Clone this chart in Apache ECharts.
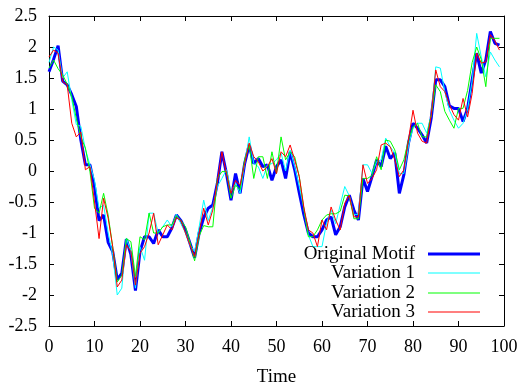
<!DOCTYPE html>
<html>
<head>
<meta charset="utf-8">
<script src="https://cdn.jsdelivr.net/npm/echarts@6/dist/echarts.min.js"></script>
<style>html,body{margin:0;padding:0;background:#fff;}#c{width:523px;height:387px;}</style>
</head>
<body>
<div id="c"></div>
<script>
const seriesNames = ["Original Motif", "Variation 1", "Variation 2", "Variation 3"];
const xTicks = [0, 10, 20, 30, 40, 50, 60, 70, 80, 90, 100];
const yTicks = [-2.5, -2, -1.5, -1, -0.5, 0, 0.5, 1, 1.5, 2, 2.5];
const xLabel = "Time";

const original = [1.60,1.80,2.02,1.45,1.39,1.23,1.04,0.50,0.10,0.10,
 -0.25,-0.80,-0.71,-1.15,-1.30,-1.75,-1.65,-1.10,-1.35,-1.93,
 -1.30,-1.06,-1.06,-1.17,-0.95,-1.06,-1.06,-0.92,-0.71,-0.80,
 -0.95,-1.17,-1.40,-1.00,-0.75,-0.60,-0.55,-0.20,0.31,-0.04,
 -0.47,-0.04,-0.36,0.12,0.42,0.12,0.20,0.07,0.10,-0.15,
 0.07,0.18,-0.12,0.31,0.02,-0.35,-0.70,-1.00,-1.06,-1.06,
 -0.95,-0.79,-0.74,-1.03,-0.90,-0.58,-0.39,-0.63,-0.79,-0.12,
 -0.33,-0.09,0.18,0.07,0.40,0.20,0.29,-0.36,-0.06,0.45,
 0.77,0.69,0.58,0.45,0.85,1.47,1.47,1.36,1.05,1.01,
 1.01,0.80,1.01,1.47,1.90,1.58,1.79,2.25,2.06,2.03];

const variation1 = [1.75,2.00,1.95,1.50,1.60,1.15,0.75,0.72,0.35,0.10,
 -0.15,-0.60,-0.55,-1.00,-1.35,-2.00,-1.89,-1.08,-1.30,-1.89,
 -1.22,-1.44,-0.68,-0.68,-1.00,-0.90,-0.79,-0.90,-0.70,-0.85,
 -1.00,-1.20,-1.30,-0.90,-0.47,-0.80,-0.58,-0.25,-0.12,0.02,
 -0.33,-0.20,-0.36,0.12,0.55,0.12,0.07,-0.12,0.10,0.12,
 0.18,0.29,0.00,0.34,0.07,-0.25,-0.60,-1.03,-1.22,-1.22,
 -1.22,-0.84,-0.63,-0.85,-0.55,-0.25,-0.40,-0.70,-0.70,0.10,
 0.10,-0.04,0.15,0.18,0.53,0.39,0.29,-0.04,-0.04,0.40,
 0.70,0.77,0.77,0.61,0.90,1.68,1.66,1.28,0.98,0.82,
 0.69,0.77,1.00,1.45,2.22,1.84,1.52,1.92,1.79,1.68];

const variation2 = [1.66,1.79,1.65,1.55,1.40,1.20,0.85,0.55,0.37,-0.01,
 -0.60,-0.68,-0.36,-0.71,-1.22,-1.79,-1.68,-1.09,-1.14,-1.70,
 -1.06,-1.11,-0.68,-1.00,-1.00,-0.90,-0.87,-0.87,-0.72,-0.80,
 -0.90,-1.15,-1.45,-1.05,-0.88,-0.90,-0.90,-0.12,-0.01,-0.01,
 -0.44,-0.23,-0.30,0.18,0.42,-0.12,0.23,0.23,-0.12,0.31,
 -0.04,0.55,0.18,0.31,0.23,-0.09,-0.60,-1.06,-1.06,-0.95,
 -0.79,-0.71,-0.69,-0.69,-0.65,-0.39,-0.40,-0.77,-0.77,-0.12,
 -0.12,-0.07,0.23,0.02,0.50,0.48,0.34,0.02,0.18,0.50,
 0.71,0.77,0.55,0.55,0.90,1.39,1.28,0.96,0.82,0.69,
 1.01,1.01,1.30,1.75,2.00,1.80,1.36,2.14,2.14,2.14];

const variation3 = [1.84,1.95,1.90,1.44,1.39,0.77,0.55,0.63,0.02,0.07,
 -0.50,-1.09,-0.44,-0.76,-1.22,-1.87,-1.76,-1.19,-1.30,-1.84,
 -1.33,-1.22,-1.00,-0.68,-1.19,-1.03,-0.87,-0.95,-0.75,-0.80,
 -1.00,-1.20,-1.38,-1.00,-0.60,-0.87,-0.63,-0.17,0.31,-0.04,
 -0.36,-0.15,-0.23,0.12,0.45,0.23,0.15,0.00,0.07,0.20,
 -0.04,0.31,0.23,0.42,0.18,-0.09,-0.58,-0.95,-1.00,-1.22,
 -0.79,-0.95,-0.58,-0.79,-0.95,-0.52,-0.39,-0.74,-0.74,0.10,
 -0.20,-0.12,0.02,0.42,0.45,0.39,0.18,-0.09,0.02,0.50,
 0.98,0.61,0.48,0.45,0.90,1.63,1.36,1.28,1.07,0.91,
 0.82,1.17,0.87,1.25,1.90,1.74,1.76,2.20,2.10,1.95];

const allValues = [original, variation1, variation2, variation3];
const colors = ["#0000ff", "#00ffff", "#00ff00", "#ff0000"];
const widths = [3, 1, 1, 1];

const font = "Liberation Serif";
const chart = echarts.init(document.getElementById('c'), null, {renderer: 'canvas'});

const series = allValues.map((vals, i) => ({
  name: seriesNames[i],
  type: 'line',
  symbol: 'none',
  animation: false,
  data: vals.map((v, t) => [t, v]),
  lineStyle: {color: colors[i], width: widths[i]},
  itemStyle: {color: colors[i]},
  z: 2 + i
}));

const legendTops = [243, 262, 282, 301];
const legends = seriesNames.map((n, i) => ({
  orient: 'horizontal',
  align: 'right',
  right: 43,
  top: legendTops[i],
  padding: 0,
  itemWidth: 52,
  itemHeight: widths[i],
  selectedMode: false,
  icon: 'rect',
  textStyle: {fontFamily: font, fontSize: 19, lineHeight: 22, color: '#000', padding: [0, 8, 0, 0]},
  data: [{name: n, icon: 'rect', itemStyle: {color: colors[i], borderWidth: 0}}]
}));

const tickStyle = {show: true, inside: true, length: 5, lineStyle: {color: '#000', width: 1}};

chart.setOption({
  animation: false,
  backgroundColor: '#fff',
  grid: {left: 49, right: 19, top: 16, bottom: 61, show: false, containLabel: false, outerBoundsMode: 'none'},
  legend: legends,
  xAxis: [{
    type: 'value', min: xTicks[0], max: xTicks[xTicks.length - 1], interval: 10,
    name: xLabel, nameLocation: 'middle', nameGap: 42,
    nameTextStyle: {fontFamily: font, fontSize: 19, color: '#000'},
    axisLine: {show: true, onZero: false, lineStyle: {color: '#000', width: 1}},
    axisTick: tickStyle,
    axisLabel: {fontFamily: font, fontSize: 18, color: '#000', margin: 12},
    splitLine: {show: false}
  }, {
    type: 'value', position: 'top', min: xTicks[0], max: xTicks[xTicks.length - 1], interval: 10,
    axisLine: {show: true, onZero: false, lineStyle: {color: '#000', width: 1}},
    axisTick: tickStyle, axisLabel: {show: false}, splitLine: {show: false}
  }],
  yAxis: [{
    type: 'value', min: yTicks[0], max: yTicks[yTicks.length - 1], interval: 0.5,
    axisLine: {show: true, onZero: false, lineStyle: {color: '#000', width: 1}},
    axisTick: tickStyle,
    axisLabel: {fontFamily: font, fontSize: 18, color: '#000', margin: 12, padding: [3, 0, 0, 0]},
    splitLine: {show: false}
  }, {
    type: 'value', position: 'right', min: yTicks[0], max: yTicks[yTicks.length - 1], interval: 0.5,
    axisLine: {show: true, onZero: false, lineStyle: {color: '#000', width: 1}},
    axisTick: tickStyle, axisLabel: {show: false}, splitLine: {show: false}
  }],
  series: series
});
</script>
</body>
</html>
